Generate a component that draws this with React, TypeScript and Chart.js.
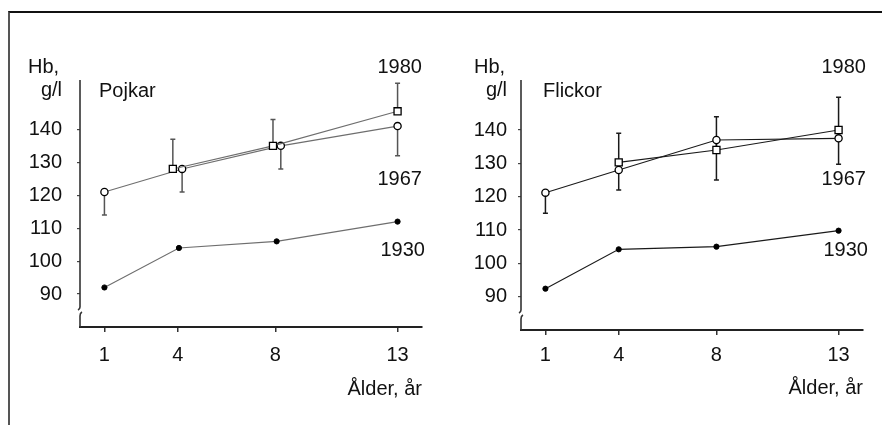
import React, { useEffect, useRef } from "react";
import { Chart, registerables } from "chart.js";

Chart.register(...registerables);

const FONT = '"Liberation Sans", Arial, Helvetica, sans-serif';
const FS = 20;

// axes
const X_TICKS = [1, 4, 8, 13];
const Y_TICKS = [90, 100, 110, 120, 130, 140];
const X_MIN = 0;
const X_MAX = 14;
const Y_MIN = 80;
const Y_MAX = 155;
const X_TITLE = "Ålder, år";

// Pojkar (boys) — Hb g/l by age
const BOYS_1930_AGE = [1, 4.05, 8.05, 13];
const BOYS_1930 = [92, 104, 106, 112];
const BOYS_1967_AGE = [1, 4.18, 8.22, 13];
const BOYS_1967 = [121, 128, 135, 141];
const BOYS_1967_LOW = [114, 121, 128, 132];
const BOYS_1980_AGE = [1, 3.8, 7.9, 13];
const BOYS_1980 = [null, 128, 135, 145.5];
const BOYS_1980_HIGH = [null, 137, 143, 154];

// Flickor (girls)
const GIRLS_1930_AGE = [1, 4, 8, 13];
const GIRLS_1930 = [92.4, 104.2, 105, 109.8];
const GIRLS_1967_AGE = [1, 4, 8, 13];
const GIRLS_1967 = [121.2, 128, 137, 137.5];
const GIRLS_1967_LOW = [115, 122, 125, 129.7];
const GIRLS_1980_AGE = [1, 4, 8, 13];
const GIRLS_1980 = [null, 130.3, 134, 140];
const GIRLS_1980_HIGH = [null, 139, 144, 149.8];

type PanelCfg = {
  title: string;
  a1930: number[]; v1930: (number | null)[];
  a1967: number[]; v1967: (number | null)[]; e1967: (number | null)[];
  a1980: number[]; v1980: (number | null)[]; e1980: (number | null)[];
  lineColor: string;
  barColor: string;
  plotBottom: number;
  xTickPad: number;
  yTickPad: number;
};

const pts = (ages: number[], vals: (number | null)[]) =>
  ages.map((a, i) => ({ x: a, y: vals[i] })).filter((d) => d.y != null) as { x: number; y: number }[];

function Panel({ cfg }: { cfg: PanelCfg }) {
  const ref = useRef<HTMLCanvasElement>(null);
  useEffect(() => {
    const c = cfg;
    const bars = [
      { ages: c.a1967, from: c.v1967, to: c.e1967 },
      { ages: c.a1980, from: c.v1980, to: c.e1980 },
    ];
    const extras = {
      id: "extras",
      beforeDatasetsDraw(chart: any) {
        const { ctx, scales } = chart;
        const xs = scales.x, ys = scales.y;
        ctx.save();
        ctx.strokeStyle = c.barColor;
        ctx.lineWidth = 1.5;
        bars.forEach((b) =>
          b.ages.forEach((a, i) => {
            const f = b.from[i], t = b.to[i];
            if (f == null || t == null) return;
            const px = xs.getPixelForValue(a);
            const y0 = ys.getPixelForValue(f);
            const y1 = ys.getPixelForValue(t);
            ctx.beginPath();
            ctx.moveTo(px, y0);
            ctx.lineTo(px, y1);
            ctx.moveTo(px - 2.5, y1);
            ctx.lineTo(px + 2.5, y1);
            ctx.stroke();
          })
        );
        ctx.restore();
      },
      afterDraw(chart: any) {
        const { ctx, chartArea } = chart;
        const x = chartArea.left;
        const top = chartArea.top;
        const bottom = chartArea.bottom;
        const bt = bottom - 18;
        const bb = bottom - 14;
        ctx.save();
        ctx.strokeStyle = "#333";
        ctx.lineWidth = 1.6;
        ctx.beginPath();
        ctx.moveTo(x, top);
        ctx.lineTo(x, bt - 2);
        ctx.quadraticCurveTo(x, bt, x - 2, bt + 1);
        ctx.moveTo(x + 2, bb - 1);
        ctx.quadraticCurveTo(x, bb, x, bb + 3);
        ctx.lineTo(x, bottom);
        ctx.stroke();
        ctx.restore();
      },
    };

    const font = { family: FONT, size: FS };
    const xAxisH = 400 - c.plotBottom + (c.plotBottom === 327 ? 1 : 0);
    const chart = new Chart(ref.current as HTMLCanvasElement, {
      type: "line",
      data: {
        datasets: [
          {
            label: "1930",
            data: pts(c.a1930, c.v1930),
            borderColor: c.lineColor,
            borderWidth: 1.1,
            pointStyle: "circle",
            pointRadius: 2.6,
            pointBackgroundColor: "#000",
            pointBorderColor: "#000",
            pointBorderWidth: 1,
            tension: 0,
          },
          {
            label: "1980",
            data: pts(c.a1980, c.v1980),
            borderColor: c.lineColor,
            borderWidth: 1.1,
            pointStyle: "rect",
            pointRadius: 5,
            pointBackgroundColor: "#fff",
            pointBorderColor: "#000",
            pointBorderWidth: 1.3,
            tension: 0,
          },
          {
            label: "1967",
            data: pts(c.a1967, c.v1967),
            borderColor: c.lineColor,
            borderWidth: 1.1,
            pointStyle: "circle",
            pointRadius: 3.6,
            pointBackgroundColor: "#fff",
            pointBorderColor: "#000",
            pointBorderWidth: 1.3,
            tension: 0,
          },
        ],
      },
      options: {
        animation: false,
        responsive: false,
        devicePixelRatio: 1,
        events: [],
        layout: {
          padding: { left: 8, top: 80, right: 19, bottom: 425 - c.plotBottom - xAxisH },
        },
        plugins: { legend: { display: false }, tooltip: { enabled: false } },
        scales: {
          x: {
            type: "linear",
            min: X_MIN,
            max: X_MAX,
            afterBuildTicks: (s: any) => {
              s.ticks = X_TICKS.map((v) => ({ value: v }));
            },
            afterFit: (s: any) => {
              s.height = xAxisH;
            },
            grid: { drawOnChartArea: false, drawTicks: true, tickLength: 5, color: "#333", lineWidth: 1.5 },
            border: { display: true, color: "#222", width: 2 },
            ticks: { padding: c.xTickPad, color: "#111", font, maxRotation: 0, autoSkip: false },
            title: { display: true, text: X_TITLE, align: "end", padding: 0, color: "#111", font },
          },
          y: {
            type: "linear",
            min: Y_MIN,
            max: Y_MAX,
            afterBuildTicks: (s: any) => {
              s.ticks = Y_TICKS.map((v) => ({ value: v }));
            },
            afterFit: (s: any) => {
              s.width = 72;
            },
            grid: { drawOnChartArea: false, drawTicks: true, tickLength: 3, color: "#444", lineWidth: 1.2 },
            border: { display: false },
            ticks: { padding: c.yTickPad, color: "#111", font, autoSkip: false },
          },
        },
      } as any,
      plugins: [extras],
    });
    return () => chart.destroy();
  }, [cfg]);
  return <canvas ref={ref} width={441} height={425} style={{ display: "block" }} />;
}

const LABEL_ASC = 0.8465;

function Label({ text, left, right, baseline }: { text: string; left?: number; right?: number; baseline: number }) {
  const style: React.CSSProperties = {
    position: "absolute",
    top: baseline - LABEL_ASC * FS,
    fontFamily: FONT,
    fontSize: FS,
    lineHeight: 1,
    color: "#111",
    whiteSpace: "nowrap",
  };
  if (left != null) style.left = left;
  if (right != null) style.right = 882 - right;
  return <span style={style}>{text}</span>;
}

const BOYS: PanelCfg = {
  title: "Pojkar",
  a1930: BOYS_1930_AGE, v1930: BOYS_1930,
  a1967: BOYS_1967_AGE, v1967: BOYS_1967, e1967: BOYS_1967_LOW,
  a1980: BOYS_1980_AGE, v1980: BOYS_1980, e1980: BOYS_1980_HIGH,
  lineColor: "#6e6e6e",
  barColor: "#555",
  plotBottom: 327,
  xTickPad: 11,
  yTickPad: 15,
};

const GIRLS: PanelCfg = {
  title: "Flickor",
  a1930: GIRLS_1930_AGE, v1930: GIRLS_1930,
  a1967: GIRLS_1967_AGE, v1967: GIRLS_1967, e1967: GIRLS_1967_LOW,
  a1980: GIRLS_1980_AGE, v1980: GIRLS_1980, e1980: GIRLS_1980_HIGH,
  lineColor: "#1a1a1a",
  barColor: "#1a1a1a",
  plotBottom: 330,
  xTickPad: 8,
  yTickPad: 11,
};

export default function App() {
  return (
    <div style={{ position: "fixed", left: 0, top: 0, width: 882, height: 425, background: "#fff", overflow: "hidden" }}>
      <div style={{ position: "absolute", left: 0, top: 0 }}>
        <Panel cfg={BOYS} />
      </div>
      <div style={{ position: "absolute", left: 441, top: 0 }}>
        <Panel cfg={GIRLS} />
      </div>
      <div
        style={{
          position: "absolute",
          left: 8,
          top: 11,
          right: 0,
          bottom: 0,
          borderTop: "2px solid #111",
          borderLeft: "2px solid #555",
          pointerEvents: "none",
        }}
      />
      <Label text="Hb," left={28} baseline={72.7} />
      <Label text="g/l" right={62} baseline={95.5} />
      <Label text="Pojkar" left={99} baseline={96.5} />
      <Label text="1980" right={422} baseline={72.7} />
      <Label text="1967" right={422} baseline={185} />
      <Label text="1930" right={425} baseline={256} />

      <Label text="Hb," left={474} baseline={72.7} />
      <Label text="g/l" right={507} baseline={95.5} />
      <Label text="Flickor" left={543} baseline={96.5} />
      <Label text="1980" right={866} baseline={72.7} />
      <Label text="1967" right={866} baseline={185} />
      <Label text="1930" right={868} baseline={256} />
    </div>
  );
}
